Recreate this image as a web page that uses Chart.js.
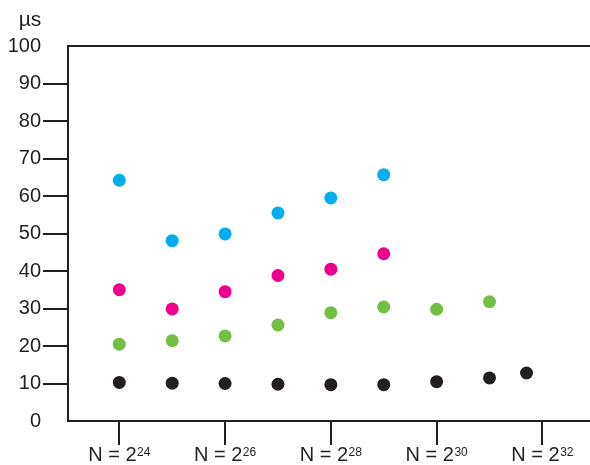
<!DOCTYPE html>
<html>
<head>
<meta charset="utf-8">
<script src="https://cdn.jsdelivr.net/npm/chart.js@4/dist/chart.umd.min.js"></script>
<style>
  html, body { margin: 0; padding: 0; background: #ffffff; }
  #wrap { width: 590px; height: 465px; }
</style>
</head>
<body>
<div id="wrap"><canvas id="c" width="590" height="465"></canvas></div>
<script>
// ---- data (x = log2 N) ----
const exponents = [24, 25, 26, 27, 28, 29, 30, 31];
const blackExponents = [24, 25, 26, 27, 28, 29, 30, 31, 31.7];
const blueValues  = [64.2, 48.1, 49.9, 55.5, 59.5, 65.7];
const pinkValues  = [35.0, 29.9, 34.5, 38.8, 40.5, 44.6];
const greenValues = [20.5, 21.4, 22.7, 25.6, 28.9, 30.4, 29.8, 31.8];
const blackValues = [10.3, 10.1, 10.0, 9.8, 9.7, 9.7, 10.5, 11.5, 12.8];
const xTickExponents = [24, 26, 28, 30, 32];
const yTickValues = [0, 10, 20, 30, 40, 50, 60, 70, 80, 90, 100];
const yUnit = 'µs';

const INK = '#231f20';
const FONT = '"Liberation Sans", Arial, Helvetica, sans-serif';

function pts(xs, ys) { return ys.map((y, i) => ({ x: xs[i], y: y })); }

function ds(xs, ys, color) {
  return {
    data: pts(xs, ys),
    backgroundColor: color,
    borderWidth: 0,
    pointRadius: 6.5,
    pointHoverRadius: 6.5,
    showLine: false
  };
}

const decor = {
  id: 'decor',
  afterDraw(chart) {
    const ctx = chart.ctx;
    const a = chart.chartArea;
    const xs = chart.scales.x;
    ctx.save();
    // top frame line
    ctx.strokeStyle = INK;
    ctx.lineWidth = 2;
    ctx.beginPath();
    ctx.moveTo(a.left - 1, a.top);
    ctx.lineTo(a.right, a.top);
    ctx.stroke();
    // unit label
    ctx.fillStyle = INK;
    ctx.font = '21px ' + FONT;
    ctx.textAlign = 'center';
    ctx.textBaseline = 'alphabetic';
    ctx.fillText(yUnit, 30, 26);
    // x labels with superscript exponent
    xTickExponents.forEach(e => {
      const px = xs.getPixelForValue(e);
      const base = 'N = 2';
      const sup = String(e);
      ctx.font = '20px ' + FONT;
      const wb = ctx.measureText(base).width;
      ctx.font = '12px ' + FONT;
      const ws = ctx.measureText(sup).width;
      const start = px - (wb + ws + 0.5) / 2;
      ctx.textAlign = 'left';
      ctx.font = '20px ' + FONT;
      ctx.fillText(base, start, 461);
      ctx.font = '12px ' + FONT;
      ctx.fillText(sup, start + wb + 0.5, 455.5);
    });
    ctx.restore();
  }
};

new Chart(document.getElementById('c'), {
  type: 'scatter',
  data: {
    datasets: [
      ds(exponents, blueValues, '#00aeef'),
      ds(exponents, pinkValues, '#ec008c'),
      ds(exponents, greenValues, '#72bf44'),
      ds(blackExponents, blackValues, INK)
    ]
  },
  options: {
    responsive: false,
    animation: false,
    devicePixelRatio: 1,
    layout: { autoPadding: false, padding: { top: 46, right: 0, left: 0, bottom: 0 } },
    plugins: { legend: { display: false }, tooltip: { enabled: false } },
    scales: {
      x: {
        type: 'linear',
        min: 23.03,
        max: 32.9,
        afterBuildTicks: s => { s.ticks = xTickExponents.map(v => ({ value: v })); },
        afterFit: s => { s.height = 44; },
        ticks: { display: false },
        grid: { drawOnChartArea: false, drawTicks: true, tickLength: 24, color: INK, lineWidth: 2 },
        border: { display: true, color: INK, width: 2 }
      },
      y: {
        type: 'linear',
        min: 0,
        max: 100,
        afterBuildTicks: s => { s.ticks = yTickValues.map(v => ({ value: v })); },
        afterFit: s => { s.width = 68; },
        ticks: {
          color: INK,
          padding: 2,
          font: { family: FONT, size: 20 },
          callback: v => String(v)
        },
        grid: {
          drawOnChartArea: false,
          drawTicks: true,
          tickLength: 25,
          lineWidth: 2,
          color: c => (c.tick && (c.tick.value === 0 || c.tick.value === 100)) ? 'rgba(0,0,0,0)' : INK
        },
        border: { display: true, color: INK, width: 2 }
      }
    }
  },
  plugins: [decor]
});
</script>
</body>
</html>
